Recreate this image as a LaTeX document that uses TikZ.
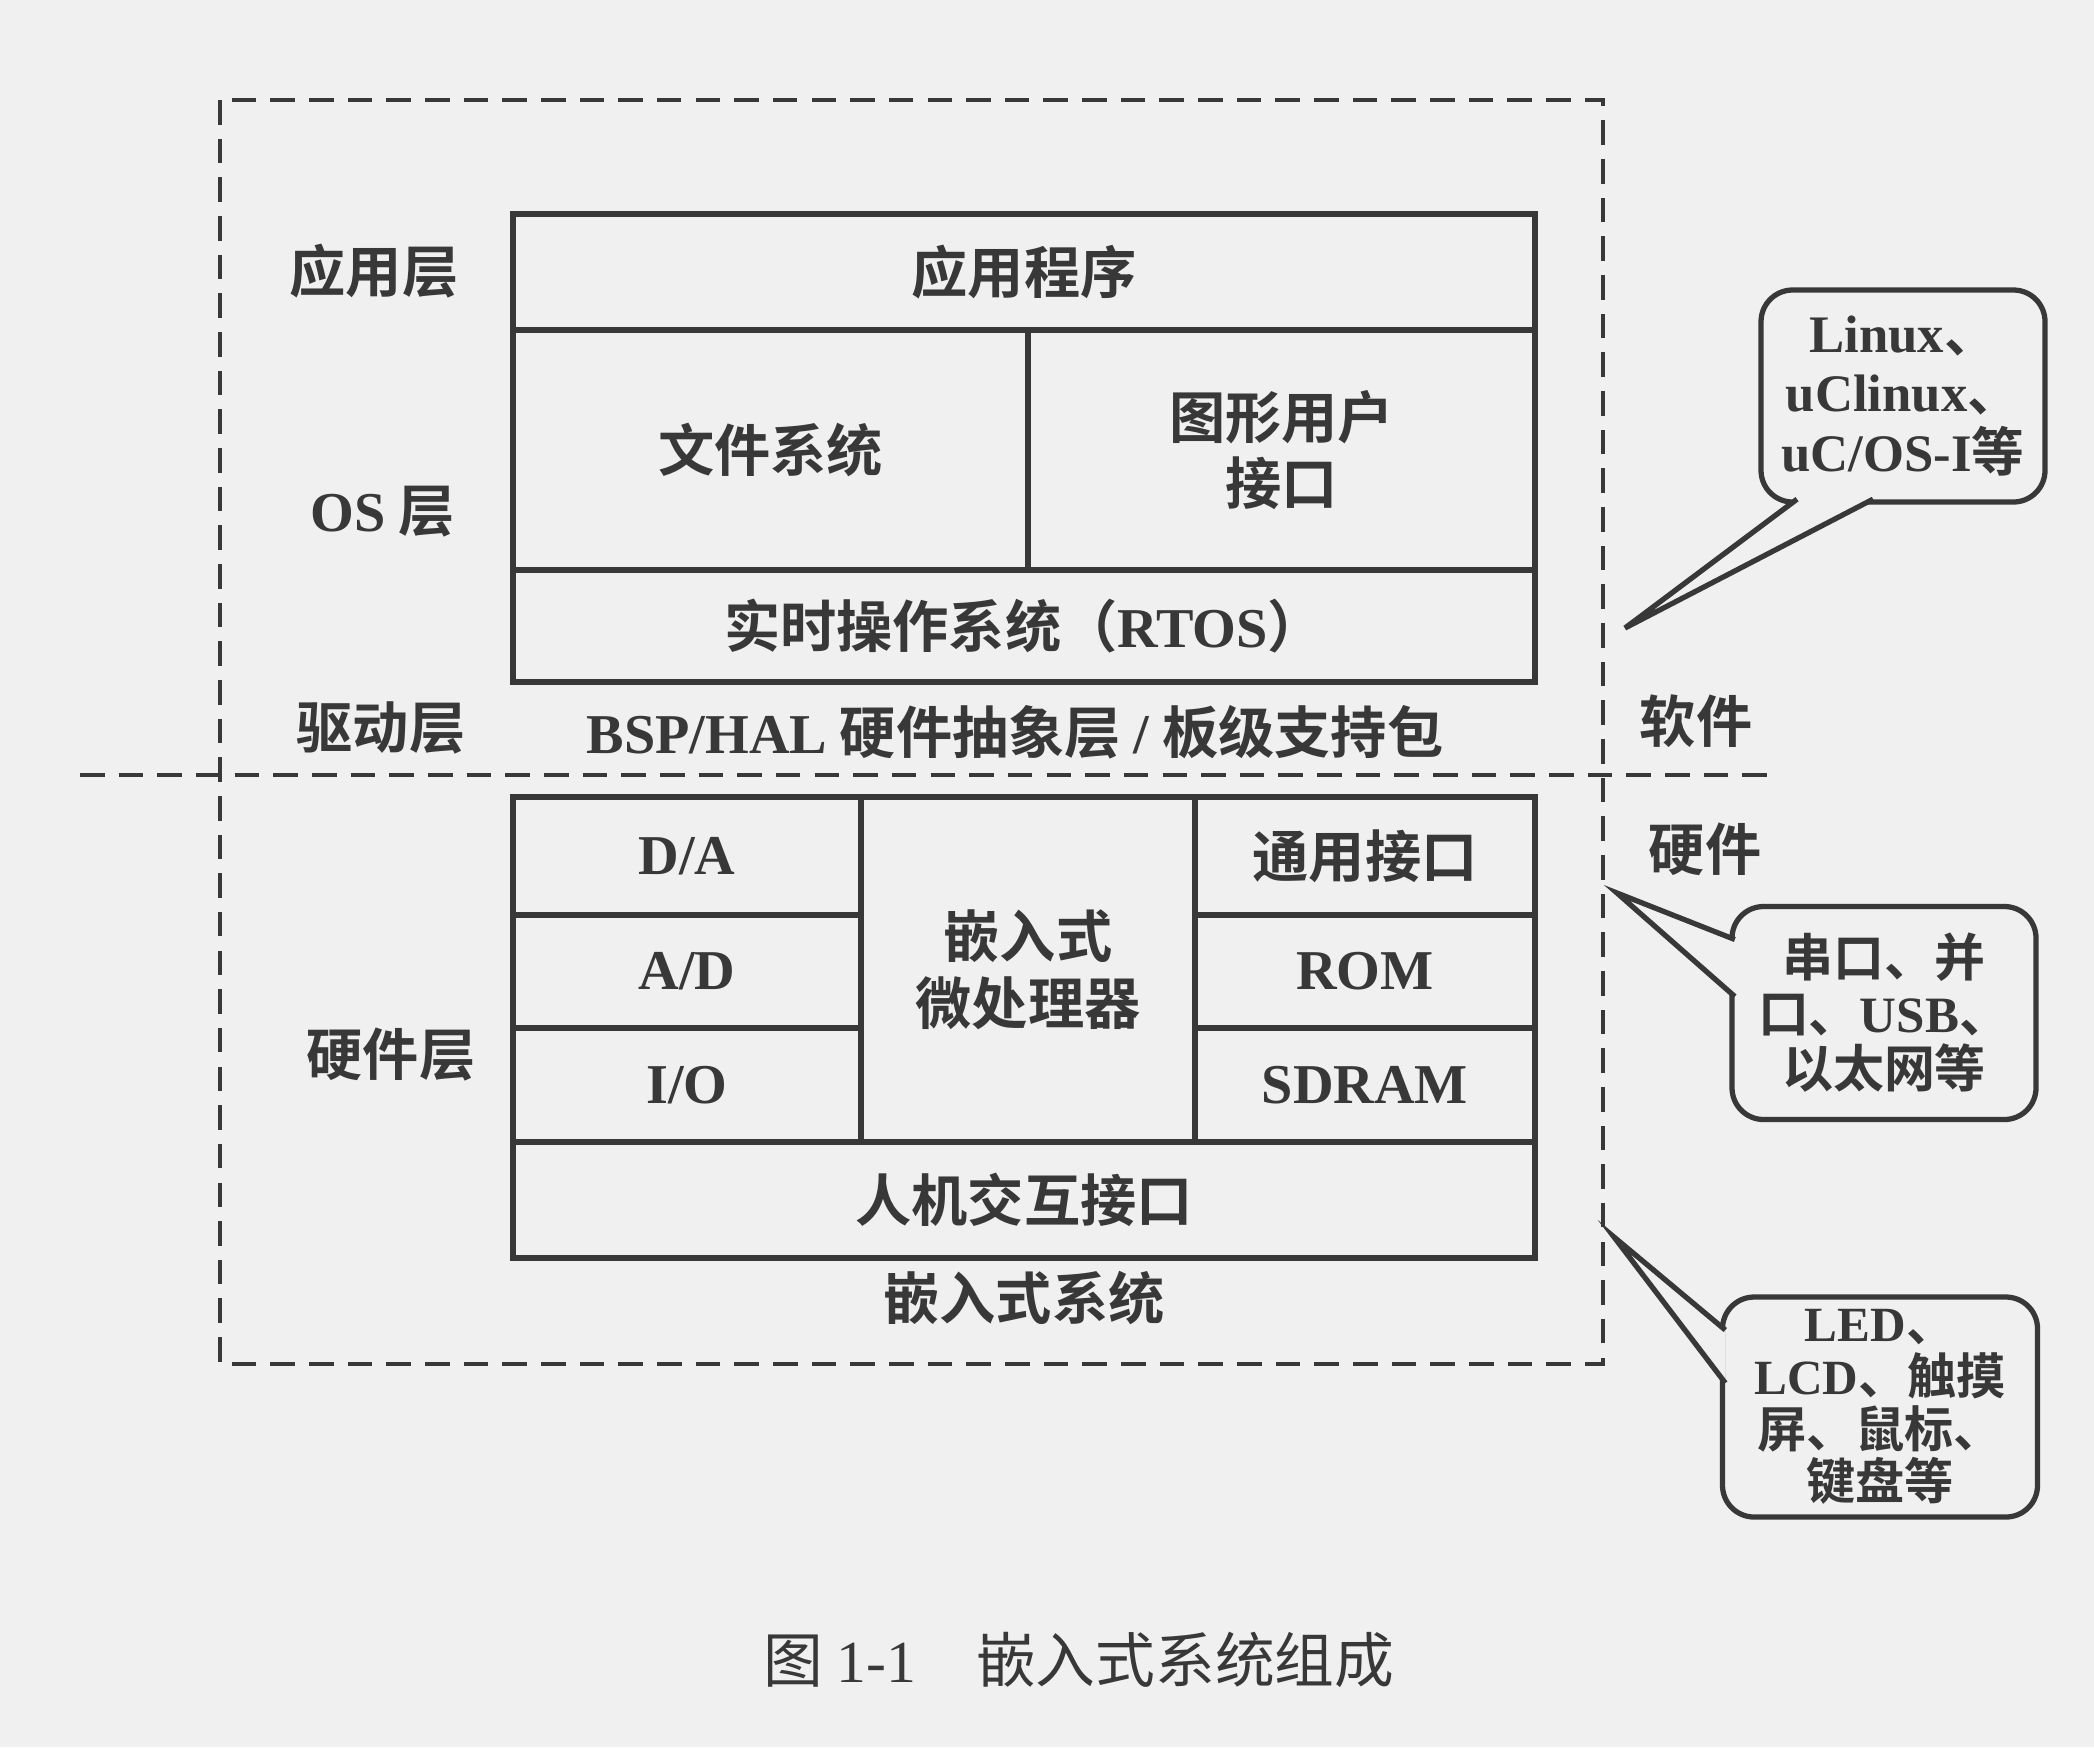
\documentclass[tikz,border=0pt]{standalone}
\usepackage{fontspec}
\setmainfont{Liberation Serif}
\newfontfamily\cjk{Noto Sans CJK SC}[BoldFont={Noto Sans CJK SC Bold}]
\usetikzlibrary{positioning}
\definecolor{embink}{HTML}{383838}
\definecolor{embpaper}{HTML}{F0F0F0}

\begin{document}
\begin{tikzpicture}[
      x=0.1mm,y=-0.1mm,
      font=\fontsize{16}{19}\selectfont\cjk\bfseries,
      text=embink,
      tier/.style={inner sep=0pt},
      cell/.style={draw=embink,line width=1.8pt,outer sep=0pt,inner sep=0pt,
        align=center},
      bubble/.style={draw=embink,line width=1.5pt,rounded corners=9pt,
        outer sep=0pt,align=center},
      pointer/.style={fill=embpaper,draw=embink,line width=1.5pt},
      fence/.style={draw=embink,line width=1.1pt,dash pattern=on 7pt off 4pt}
    ]
    \fill[embpaper] (0,0) rectangle (2094,1747);
    \useasboundingbox (0,0) rectangle (2094,1747);

    \draw[fence] (220,100) rectangle (1603,1364);
    \draw[fence] (80,775) -- (1776,775);

    \node[cell,minimum width=102.2mm,minimum height=11.6mm,anchor=north west]
      (app) at (513,214) {应用程序};
    \node[cell,minimum width=51.5mm,minimum height=24mm,
      below right=0pt of app.south west] (fs) {文件系统};
    \node[cell,minimum width=50.7mm,minimum height=24mm,
      below left=0pt of app.south east] (gui) {图形用户\\接口};
    \node[cell,minimum width=102.2mm,minimum height=11.2mm,
      below right=0pt of fs.south west] (rtos) {实时操作系统（{\rmfamily RTOS}）};

    \node[cell,minimum width=34.8mm,minimum height=11.8mm,anchor=north west]
      (da) at (513,797) {\rmfamily D/A};
    \node[cell,minimum width=34.8mm,minimum height=11.3mm,
      below right=0pt of da.south west] (ad) {\rmfamily A/D};
    \node[cell,minimum width=34.8mm,minimum height=11.4mm,
      below right=0pt of ad.south west] (io) {\rmfamily I/O};
    \node[cell,minimum width=33.4mm,minimum height=34.5mm,
      below right=0pt of da.north east] (cpu) {嵌入式\\微处理器};
    \node[cell,minimum width=34mm,minimum height=11.8mm,
      below right=0pt of cpu.north east] (gpio) {通用接口};
    \node[cell,minimum width=34mm,minimum height=11.3mm,
      below right=0pt of gpio.south west] (rom) {\rmfamily ROM};
    \node[cell,minimum width=34mm,minimum height=11.4mm,
      below right=0pt of rom.south west] (sdram) {\rmfamily SDRAM};
    \node[cell,minimum width=102.2mm,minimum height=11.6mm,
      below right=0pt of io.south west] (hmi) {人机交互接口};

    \node[tier] (applayer) at (374,271) {应用层};
    \node[tier] (oslayer) at (383,512) {{\rmfamily OS} 层};
    \node[tier] (drvlayer) at (381,728) {驱动层};
    \node[tier] (hwlayer) at (391,1055) {硬件层};
    \node[tier] (bsp) at (1015,732)
      {{\rmfamily BSP/HAL} 硬件抽象层 {\rmfamily /} 板级支持包};
    \node[tier,below=1.2mm of hmi] (embsys) {嵌入式系统};
    \node[tier] (soft) at (1696,721) {软件};
    \node[tier] (hard) at (1705,849) {硬件};

    \node[bubble,minimum width=28.4mm,minimum height=21.2mm,
      font=\fontsize{15}{17}\selectfont\cjk\bfseries] (osnote) at (1903,396)
      {{\rmfamily Linux}、\\{\rmfamily uClinux}、\\{\rmfamily uC/OS-I}等};
    \node[bubble,minimum width=30.4mm,minimum height=21.3mm,
      font=\fontsize{14.5}{15.8}\selectfont\cjk\bfseries] (ionote) at (1884,1013)
      {串口、并\\口、{\rmfamily USB}、\\以太网等};
    \node[bubble,minimum width=31.5mm,minimum height=22mm,
      font=\fontsize{14}{15}\selectfont\cjk\bfseries] (hminote) at (1880,1407)
      {{\rmfamily LED}、\\{\rmfamily LCD}、触摸\\屏、鼠标、\\键盘等};

    \coordinate (ostip) at (1625,628);
    \coordinate (iotip) at (1617,893);
    \coordinate (hmitip) at (1614,1237);
    \filldraw[pointer] ([xshift=3.6mm,yshift=0.8pt]osnote.south west) -- (ostip)
      -- ([xshift=11.2mm,yshift=0.8pt]osnote.south west);
    \filldraw[pointer] ([xshift=0.8pt,yshift=-3.3mm]ionote.north west) -- (iotip)
      -- ([xshift=0.8pt,yshift=-9mm]ionote.north west);
    \filldraw[pointer] ([xshift=0.8pt,yshift=-3.3mm]hminote.north west) -- (hmitip)
      -- ([xshift=0.8pt,yshift=-8.6mm]hminote.north west);

    \node[tier,font=\fontsize{17}{20}\selectfont\cjk] (caption) at (1079,1660)
      {图 {\rmfamily 1-1}\quad 嵌入式系统组成};
  \end{tikzpicture}
\end{document}
